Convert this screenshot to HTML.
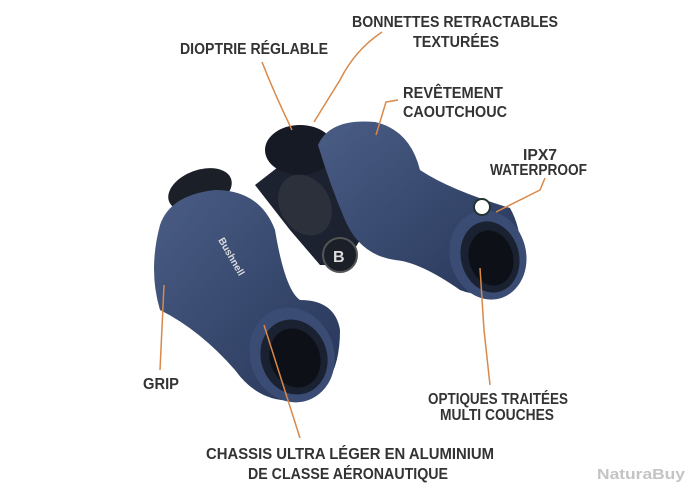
<!DOCTYPE html>
<html><head><style>
html,body{margin:0;padding:0;background:#fff;width:700px;height:500px;overflow:hidden}
text{font-family:"Liberation Sans",sans-serif;font-weight:bold;fill:#333}
</style></head><body>
<svg width="700" height="500" viewBox="0 0 700 500" xmlns="http://www.w3.org/2000/svg">
<defs>
<linearGradient id="b" x1="0" y1="0" x2="1" y2="1"><stop offset="0" stop-color="#4a5d85"/><stop offset="1" stop-color="#273659"/></linearGradient>
</defs>
<!-- hinge -->
<path d="M255,185 L300,150 L360,175 L375,215 L345,265 L320,265 L290,230 Z" fill="#1c2230"/>
<ellipse cx="300" cy="150" rx="35" ry="25" fill="#151a24"/>
<ellipse cx="305" cy="205" rx="25" ry="32" fill="#2b303a" transform="rotate(-30 305 205)"/>
<circle cx="340" cy="255" r="17" fill="#1b1f28" stroke="#555" stroke-width="2"/>
<text x="333" y="262" font-size="16" style="fill:#ddd">B</text>
<!-- right barrel -->
<path d="M318,145 Q330,118 375,122 Q410,130 420,170 Q450,190 510,208 Q528,240 515,285 Q485,300 460,290 Q420,262 395,260 Q360,255 345,220 Q330,185 318,145 Z" fill="url(#b)"/>
<ellipse cx="488" cy="255" rx="38" ry="45" fill="#3a4c74" transform="rotate(-15 488 255)"/>
<ellipse cx="490" cy="257" rx="29" ry="36" fill="#1a2130" transform="rotate(-15 490 257)"/>
<ellipse cx="491" cy="258" rx="22" ry="28" fill="#0d1017" transform="rotate(-15 491 258)"/>
<circle cx="482" cy="207" r="8" fill="#fff" stroke="#233" stroke-width="2"/>
<!-- left barrel -->
<ellipse cx="200" cy="190" rx="33" ry="20" fill="#1b1f28" transform="rotate(-20 200 190)"/>
<path d="M160,225 Q170,195 215,190 Q260,190 275,230 Q285,290 300,300 Q335,300 340,330 Q340,390 300,400 Q260,405 235,370 Q200,330 160,310 Q148,270 160,225 Z" fill="url(#b)"/>
<ellipse cx="292" cy="355" rx="42" ry="48" fill="#3a4c74" transform="rotate(-20 292 355)"/>
<ellipse cx="294" cy="357" rx="33" ry="38" fill="#1a2130" transform="rotate(-20 294 357)"/>
<ellipse cx="295" cy="358" rx="25" ry="30" fill="#0d1017" transform="rotate(-20 295 358)"/>
<text x="218" y="240" font-size="10" style="fill:#ddd" transform="rotate(60 218 240)">Bushnell</text>
<!-- leader lines -->
<g fill="none" stroke="#d8894a" stroke-width="1.5">
<path d="M262,62 Q275,95 292,130"/>
<path d="M382,32 Q355,50 340,80 L314,122"/>
<path d="M398,100 L386,102 L376,135"/>
<path d="M545,178 L540,190 L496,212"/>
<path d="M490,385 L484,330 L480,268"/>
<path d="M300,438 L264,325"/>
<path d="M160,370 L164,285"/>
</g>
<!-- labels -->
<g font-size="16">
<text x="352" y="27" textLength="206" lengthAdjust="spacingAndGlyphs">BONNETTES RETRACTABLES</text>
<text x="413" y="47" textLength="86" lengthAdjust="spacingAndGlyphs">TEXTURÉES</text>
<text x="180" y="54" textLength="148" lengthAdjust="spacingAndGlyphs">DIOPTRIE RÉGLABLE</text>
<text x="403" y="98" textLength="100" lengthAdjust="spacingAndGlyphs">REVÊTEMENT</text>
<text x="403" y="117" textLength="104" lengthAdjust="spacingAndGlyphs">CAOUTCHOUC</text>
<text x="523" y="160" textLength="34" lengthAdjust="spacingAndGlyphs">IPX7</text>
<text x="490" y="175" textLength="97" lengthAdjust="spacingAndGlyphs">WATERPROOF</text>
<text x="143" y="389" textLength="36" lengthAdjust="spacingAndGlyphs">GRIP</text>
<text x="428" y="404" textLength="140" lengthAdjust="spacingAndGlyphs">OPTIQUES TRAITÉES</text>
<text x="440" y="420" textLength="114" lengthAdjust="spacingAndGlyphs">MULTI COUCHES</text>
<text x="206" y="459" textLength="288" lengthAdjust="spacingAndGlyphs">CHASSIS ULTRA LÉGER EN ALUMINIUM</text>
<text x="248" y="479" textLength="200" lengthAdjust="spacingAndGlyphs">DE CLASSE AÉRONAUTIQUE</text>
</g>
<text x="597" y="479" font-size="15" style="fill:#c4c4c4" textLength="88" lengthAdjust="spacingAndGlyphs">NaturaBuy</text>
</svg>
</body></html>
